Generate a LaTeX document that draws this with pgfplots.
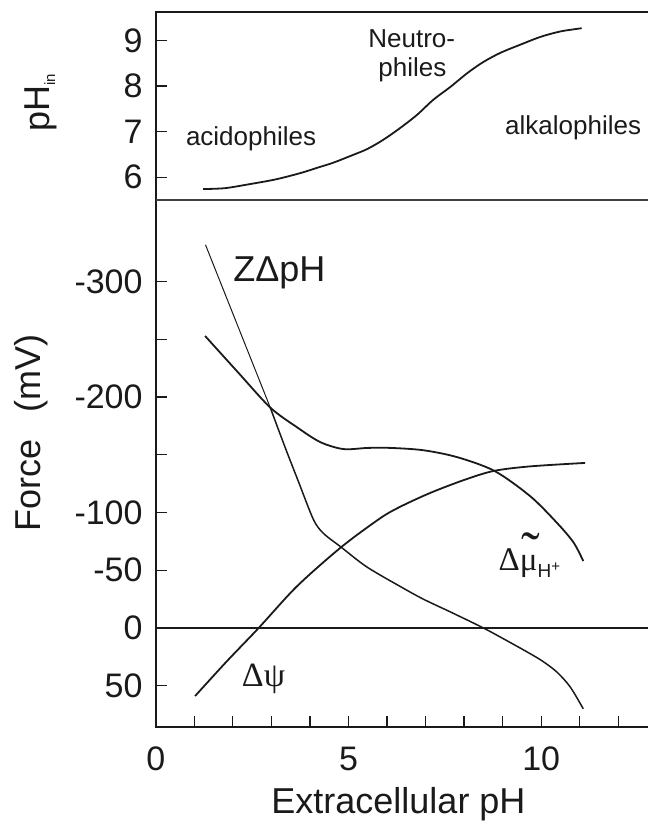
\documentclass[border=0pt]{standalone}
\usepackage{pgfplots}
\pgfplotsset{compat=1.18}
\usepackage{fontspec}
\setmainfont{Liberation Sans}
\newfontfamily\serif{Liberation Serif}
\begin{document}
\begin{tikzpicture}
\path[use as bounding box] (0pt,0pt) rectangle (648pt,821pt);
\definecolor{ink}{HTML}{1A1A1A}
% ---------------- bottom panel ----------------
\begin{axis}[
  scale only axis, width=492.25pt, height=527pt,
  at={(155.75pt,94pt)}, anchor=south west,
  xmin=0, xmax=12.77, ymin=-370.8, ymax=85.8, y dir=reverse,
  axis line style={draw=none}, clip=false,
  xtick={0,...,12}, xticklabels={0,,,,,5,,,,,10,,},
  ytick={-300,-250,-200,-150,-100,-50,0,50},
  yticklabels={-300,,-200,,-100,-50,0,50},
  xtick pos=bottom, ytick pos=left,
  tick align=inside, major tick length=11pt,
  tick style={ink, line width=1.3pt},
  /pgf/number format/assume math mode=true,
  ticklabel style={font=\fontsize{34}{36}\selectfont, inner sep=0pt, text=ink},
  xticklabel style={anchor=north, yshift=-20pt},
  yticklabel style={anchor=east, xshift=-13pt},
]
\draw[ink, line width=2.4pt] (axis cs:0,-370.8) -- (axis cs:0,85.8);
\draw[ink, line width=2.4pt] (axis cs:-0.03,85.8) -- (axis cs:12.77,85.8);
\draw[ink, line width=1.5pt] (axis cs:0,0) -- (axis cs:12.77,0);
% Z delta pH
\addplot[ink, line width=1.0pt] coordinates {(1.29,-332) (2.97,-191)};
\addplot[ink, line width=1.5pt, smooth] coordinates {
 (2.97,-191) (3.35,-157) (3.7,-127) (4.09,-94) (4.35,-82) (4.81,-70) (5.47,-53) (6.34,-36)
 (6.94,-25) (7.7,-13) (8.5,0) (9.0,9) (9.54,19) (10.0,28) (10.4,38) (10.75,51) (11.09,70)};
% delta mu
\addplot[ink, line width=1.8pt, smooth] coordinates {
 (1.28,-253) (2.12,-222) (2.97,-191) (3.66,-174) (4.27,-161) (4.87,-155)
 (5.5,-156) (6.09,-156) (6.94,-154) (7.82,-148) (8.79,-136) (9.72,-114)
 (10.41,-91) (10.84,-74) (11.09,-58)};
% delta psi
\addplot[ink, line width=1.8pt, smooth] coordinates {
 (1.02,59) (1.84,29) (2.67,0) (3.66,-36) (4.81,-70) (5.82,-95) (6.34,-105)
 (7.12,-117) (7.98,-128) (8.76,-136) (9.71,-140) (11.14,-143)};
\node[anchor=base west, inner sep=0pt, text=ink, font=\fontsize{36}{36}\selectfont] at (axis cs:2.01,-300) {ZΔpH};
\node[anchor=base west, inner sep=0pt, text=ink, font=\fontsize{34}{34}\selectfont\serif] at (axis cs:2.23,51) {Δψ};
\node[anchor=base west, inner sep=0pt, text=ink, font=\fontsize{33}{33}\selectfont\serif] at (axis cs:8.89,-50) {Δ\rlap{\hspace{1.5pt}\fontsize{56}{56}\selectfont\char"02DC}μ\raisebox{-7pt}{\fontsize{19}{19}\selectfont\rmfamily H\raisebox{6pt}{\fontsize{15}{15}\selectfont +}}};
\end{axis}
% ---------------- top panel ----------------
\begin{axis}[
  scale only axis, width=492.25pt, height=187.7pt,
  at={(155.75pt,621pt)}, anchor=south west,
  xmin=0, xmax=12.77, ymin=5.5, ymax=9.62,
  axis line style={draw=none}, clip=false,
  xtick=\empty, ytick={6,7,8,9}, ytick pos=left,
  tick align=inside, major tick length=11pt,
  tick style={ink, line width=1.3pt},
  /pgf/number format/assume math mode=true,
  ticklabel style={font=\fontsize{34}{36}\selectfont, inner sep=0pt, text=ink},
  yticklabel style={anchor=east, xshift=-13pt},
]
\draw[ink, line width=2.4pt] (axis cs:0,5.5) -- (axis cs:0,9.62);
\draw[ink, line width=2.4pt] (axis cs:-0.03,9.62) -- (axis cs:12.77,9.62);
\draw[black!75, line width=1.4pt] (axis cs:0,5.5) -- (axis cs:12.77,5.5);
\addplot[ink, line width=1.8pt, smooth] coordinates {
 (1.23,5.74) (1.8,5.76) (2.45,5.85) (3.1,5.95) (3.75,6.09) (4.2,6.21)
 (4.61,6.32) (5.12,6.49) (5.49,6.62) (5.90,6.82) (6.34,7.08) (6.78,7.37)
 (7.20,7.70) (7.64,7.98) (8.09,8.29) (8.50,8.53) (8.94,8.73) (9.46,8.91)
 (9.98,9.08) (10.5,9.20) (11.05,9.27)};
\node[anchor=base west, inner sep=0pt, text=ink, font=\fontsize{26}{26}\selectfont] at (axis cs:0.78,6.69) {acidophiles};
\node[anchor=base west, inner sep=0pt, text=ink, font=\fontsize{26}{26}\selectfont] at (axis cs:5.51,8.85) {Neutro-};
\node[anchor=base west, inner sep=0pt, text=ink, font=\fontsize{26}{26}\selectfont] at (axis cs:5.77,8.20) {philes};
\node[anchor=base west, inner sep=0pt, text=ink, font=\fontsize{26}{26}\selectfont] at (axis cs:9.06,6.93) {alkalophiles};
\end{axis}
% axis titles
\node[rotate=90, anchor=base, inner sep=0pt, text=ink, font=\fontsize{36}{36}\selectfont] at (49pt,718pt) {pH\raisebox{-6pt}{\fontsize{15}{15}\selectfont in}};
\node[rotate=90, anchor=base, inner sep=0pt, text=ink, font=\fontsize{36}{36}\selectfont] at (40pt,388pt) {Force\hspace{0.45em} (mV)};
\node[anchor=base, inner sep=0pt, text=ink, font=\fontsize{36}{36}\selectfont] at (398.5pt,8pt) {Extracellular pH};
\end{tikzpicture}
\end{document}
